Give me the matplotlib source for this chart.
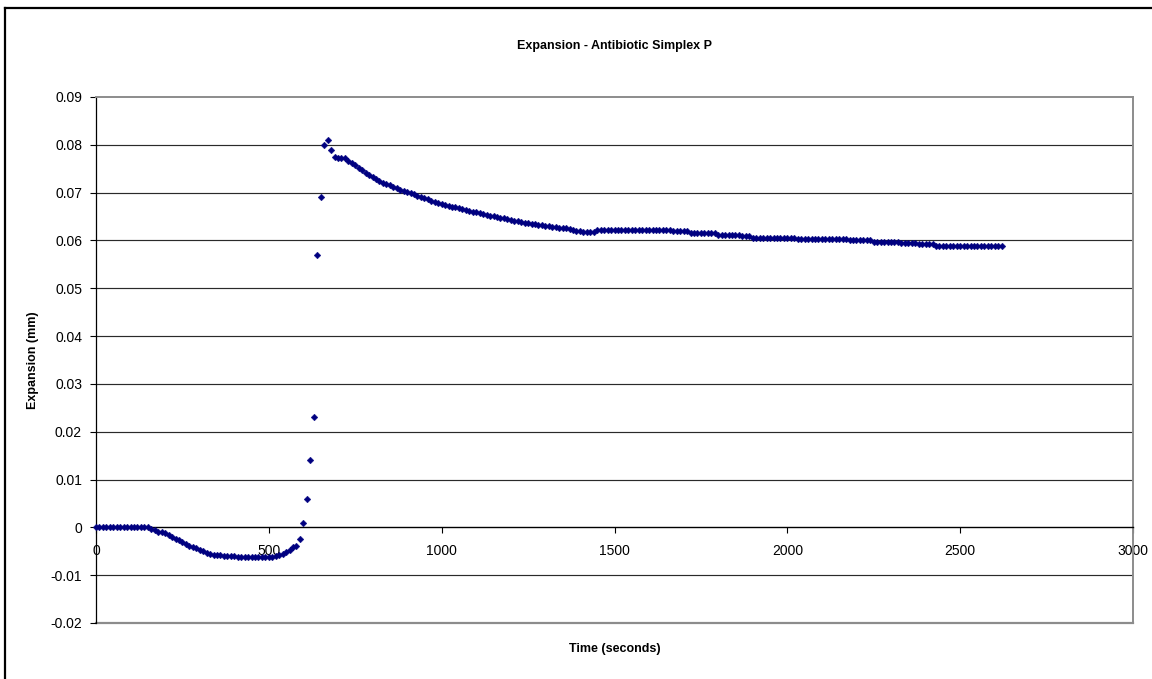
import matplotlib
matplotlib.use("Agg")
import matplotlib.pyplot as plt
from matplotlib.lines import Line2D
from matplotlib.ticker import FixedLocator, FuncFormatter

plt.rcParams["font.family"] = ["Liberation Sans", "DejaVu Sans"]

# Dilatometer readings, one every 10 s
sample_interval_s = 10
expansion_mm = [
    # 0 - 150 s
    0.0, 0.0, 0.0, 0.0, 0.0, 0.0, 0.0, 0.0, 0.0, 0.0, 0.0, 0.0, 0.0, 0.0, 0.0, 0.0,
    # 160 - 400 s
    -0.0003, -0.0006, -0.0009, -0.0010, -0.0012, -0.0016, -0.0021, -0.0024, -0.0027, -0.0030,
    -0.0034, -0.0039, -0.0041, -0.0044, -0.0047, -0.0050, -0.0053, -0.0056, -0.0057, -0.0058,
    -0.0058, -0.0059, -0.0059, -0.0059, -0.0060,
    # 410 - 510 s
    -0.0061, -0.0061, -0.0061, -0.0061, -0.0061, -0.0061, -0.0061, -0.0061, -0.0061, -0.0061, -0.0061,
    # 520 - 690 s
    -0.0060, -0.0058, -0.0055, -0.0052, -0.0047, -0.0042, -0.0038, -0.0025, 0.0010, 0.0060,
    0.0140, 0.0230, 0.0570, 0.0690, 0.0800, 0.0810, 0.0790, 0.0775,
    # 700 - 1440 s
    0.0772, 0.0773, 0.0773, 0.0767, 0.0762, 0.0757, 0.0752, 0.0747, 0.0742, 0.0737,
    0.0733, 0.0729, 0.0725, 0.0721, 0.0718, 0.0715, 0.0712, 0.0709, 0.0706, 0.0704,
    0.0702, 0.0700, 0.0697, 0.0694, 0.0691, 0.0688, 0.0686, 0.0683, 0.0680, 0.0678,
    0.0676, 0.0675, 0.0673, 0.0671, 0.0669, 0.0667, 0.0665, 0.0663, 0.0661, 0.0660,
    0.0659, 0.0657, 0.0655, 0.0653, 0.0652, 0.0651, 0.0650, 0.0648, 0.0646, 0.0644,
    0.0643, 0.0641, 0.0640, 0.0638, 0.0637, 0.0636, 0.0635, 0.0634, 0.0633, 0.0632,
    0.0631, 0.0630, 0.0629, 0.0628, 0.0627, 0.0626, 0.0625, 0.0624, 0.0622, 0.0620,
    0.0619, 0.0618, 0.0617, 0.0617, 0.0617,
    # 1450 - 1660 s
    0.0622, 0.0622, 0.0622, 0.0622, 0.0622, 0.0622, 0.0622, 0.0622, 0.0622, 0.0622, 0.0622,
    0.0622, 0.0622, 0.0622, 0.0622, 0.0622, 0.0622, 0.0622, 0.0622, 0.0622, 0.0622, 0.0622,
    # 1670 - 1890 s
    0.0619, 0.0619, 0.0619, 0.0619, 0.0619,
    0.0616, 0.0616, 0.0616, 0.0616, 0.0616, 0.0616, 0.0616, 0.0616,
    0.0612, 0.0612, 0.0612, 0.0612, 0.0612, 0.0612, 0.0612,
    0.0609, 0.0609, 0.0609,
    # 1900 - 2170 s
    0.0606, 0.0606, 0.0606, 0.0606, 0.0606, 0.0606, 0.0606, 0.0606, 0.0606, 0.0606, 0.0606, 0.0606, 0.0606,
    0.0603, 0.0603, 0.0603, 0.0603, 0.0603, 0.0603, 0.0603, 0.0603, 0.0603, 0.0603, 0.0603, 0.0603, 0.0603,
    0.0603, 0.0603,
    # 2180 - 2420 s
    0.0600, 0.0600, 0.0600, 0.0600, 0.0600, 0.0600, 0.0600,
    0.0597, 0.0597, 0.0597, 0.0597, 0.0597, 0.0597, 0.0597, 0.0597,
    0.0595, 0.0595, 0.0595, 0.0595, 0.0595,
    0.0592, 0.0592, 0.0592, 0.0592, 0.0592,
    # 2430 - 2620 s
    0.0589, 0.0589, 0.0589, 0.0589, 0.0589, 0.0589, 0.0589, 0.0589, 0.0589, 0.0589,
    0.0589, 0.0589, 0.0589, 0.0589, 0.0589, 0.0589, 0.0589, 0.0589, 0.0589, 0.0589,
]
time_s = [i * sample_interval_s for i in range(len(expansion_mm))]

x_ticks = [0, 500, 1000, 1500, 2000, 2500, 3000]
y_ticks = [-0.02, -0.01, 0.0, 0.01, 0.02, 0.03, 0.04, 0.05, 0.06, 0.07, 0.08, 0.09]

title = "Expansion - Antibiotic Simplex P"
x_label = "Time (seconds)"
y_label = "Expansion (mm)"

W, H = 1152, 679
fig = plt.figure(figsize=(W / 100, H / 100), dpi=100, facecolor="white")

left, right, top, bottom = 96, 1133, 97, 623
ax = fig.add_axes([left / W, 1 - bottom / H, (right - left) / W, (bottom - top) / H])
ax.set_facecolor("white")

ax.set_xlim(0, 3000)
ax.set_ylim(-0.02, 0.09)

# Horizontal gridlines between the plot-area edges
for v in y_ticks:
    if v in (-0.02, 0.09, 0.0):
        continue
    ax.axhline(v, color="#2a2a2a", lw=0.85, zorder=1)

# Plot-area frame
for side in ("top", "right"):
    ax.spines[side].set_color("#8c8c8c")
    ax.spines[side].set_linewidth(1.4)
ax.axhline(-0.02, color="#8c8c8c", lw=1.6, zorder=1, clip_on=False)

# Axes lines: y axis at the left, x axis crossing at zero
ax.spines["left"].set_color("black")
ax.spines["left"].set_linewidth(0.9)
ax.spines["bottom"].set_position(("data", 0))
ax.spines["bottom"].set_color("black")
ax.spines["bottom"].set_linewidth(1.0)

ax.xaxis.set_major_locator(FixedLocator(x_ticks))
ax.yaxis.set_major_locator(FixedLocator(y_ticks))
ax.xaxis.set_major_formatter(FuncFormatter(lambda v, p: f"{int(v)}"))
ax.yaxis.set_major_formatter(FuncFormatter(lambda v, p: f"{round(v, 2):g}"))
ax.tick_params(axis="both", direction="out", length=4, width=0.8, color="black",
               labelsize=10, labelcolor="black")
ax.tick_params(axis="x", pad=8)
ax.tick_params(axis="y", pad=6)

ax.plot(time_s, expansion_mm, linestyle="none", marker="D", markersize=3.4,
        markerfacecolor="#000080", markeredgecolor="#000080", markeredgewidth=0.3,
        zorder=3, clip_on=False)

fig.text((left + right) / 2 / W, 1 - 46 / H, title, ha="center", va="center",
         fontsize=9, fontweight="bold")
fig.text((left + right) / 2 / W, 1 - 649 / H, x_label, ha="center", va="center",
         fontsize=9, fontweight="bold")
fig.text(33 / W, 1 - (top + bottom) / 2 / H, y_label, ha="center", va="center",
         rotation=90, fontsize=9, fontweight="bold")

# Chart-area border (top and left edges fall inside the image)
bx, by = 5 / W, 1 - 8 / H
fig.add_artist(Line2D([bx, bx], [0, by], transform=fig.transFigure, color="black", lw=1.6))
fig.add_artist(Line2D([bx, 1], [by, by], transform=fig.transFigure, color="black", lw=1.6))

fig.savefig("out.png", dpi=100, facecolor="white")
